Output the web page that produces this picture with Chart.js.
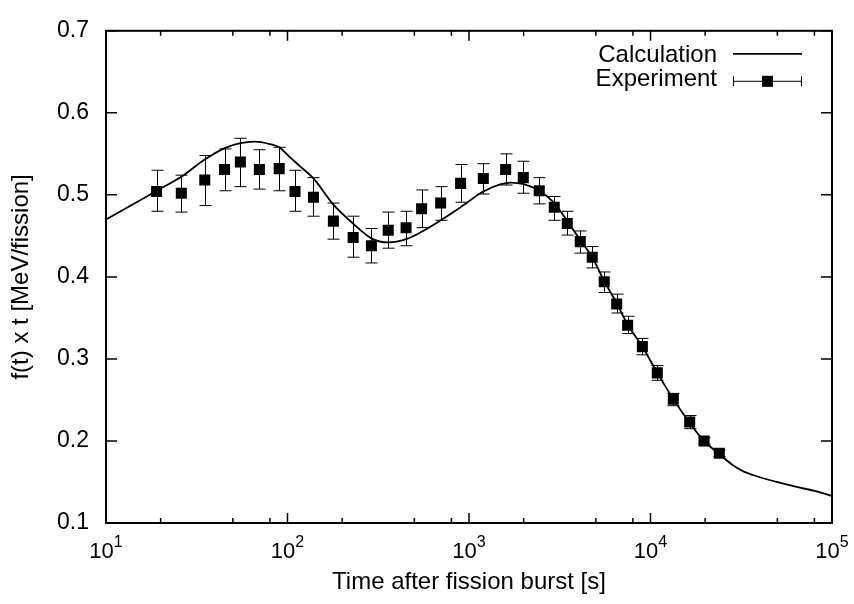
<!DOCTYPE html>
<html>
<head>
<meta charset="utf-8">
<script src="https://cdn.jsdelivr.net/npm/chart.js@4/dist/chart.umd.min.js"></script>
<style>
  html, body { margin: 0; padding: 0; background: #fff; }
</style>
</head>
<body>
<canvas id="myChart" width="854" height="604"></canvas>
<script>
// Experiment: time [s], value, error bar bounds
const expT = [19, 26, 35, 45, 55, 70, 90, 110, 139, 179, 230, 290, 359, 450, 548, 698, 899, 1199,
  1592, 1991, 2438, 2950, 3480, 4103, 4775, 5558, 6511, 7482, 9020, 10901, 13357, 16440, 19727, 23940]
const expY = [0.504, 0.502, 0.518, 0.531, 0.540, 0.531, 0.532, 0.504, 0.497, 0.468, 0.448, 0.438,
  0.457, 0.460, 0.483, 0.490, 0.514, 0.520, 0.531, 0.521, 0.505, 0.485, 0.465, 0.443, 0.424, 0.394,
  0.367, 0.341, 0.315, 0.283, 0.251, 0.223, 0.200, 0.185]
const expHi = [0.530, 0.524, 0.548, 0.556, 0.569, 0.555, 0.558, 0.530, 0.521, 0.490, 0.474, 0.459,
  0.479, 0.480, 0.506, 0.510, 0.537, 0.538, 0.550, 0.541, 0.521, 0.498, 0.480, 0.456, 0.437, 0.406,
  0.379, 0.352, 0.325, 0.292, 0.258, 0.231, 0.204, 0.189]
const expLo = [0.480, 0.479, 0.487, 0.505, 0.510, 0.507, 0.505, 0.480, 0.474, 0.446, 0.424, 0.417,
  0.435, 0.438, 0.460, 0.469, 0.491, 0.501, 0.512, 0.502, 0.489, 0.469, 0.451, 0.429, 0.411, 0.381,
  0.356, 0.331, 0.305, 0.274, 0.243, 0.215, 0.196, 0.181]

// Calculation curve
const calcT = [10, 15, 19, 26, 35, 45, 55, 66, 80, 90, 103, 117, 139, 179, 230, 290, 359, 450, 548,
  698, 899, 1199, 1500, 1700, 2000, 2440, 2950, 3480, 4100, 4775, 5560, 6510, 7480, 9020, 10900,
  13360, 16440, 19730, 23940, 28600, 32500, 38500, 49600, 63800, 82300, 100000]
const calcV = [0.470, 0.492, 0.505, 0.522, 0.543, 0.557, 0.563, 0.565, 0.562, 0.558, 0.546, 0.535,
  0.520, 0.488, 0.465, 0.447, 0.442, 0.446, 0.455, 0.469, 0.485, 0.504, 0.513, 0.515, 0.513, 0.505,
  0.490, 0.468, 0.445, 0.424, 0.395, 0.368, 0.342, 0.315, 0.283, 0.251, 0.222, 0.200, 0.184, 0.170,
  0.163, 0.157, 0.150, 0.144, 0.1385, 0.133]

// Axis ticks
const xMajor = [10, 100, 1000, 10000, 100000]
const xExp = ['1', '2', '3', '4', '5']
const xMinor = [2, 5, 8]
const yTicks = [0.1, 0.2, 0.3, 0.4, 0.5, 0.6, 0.7]

const FONT = '"Liberation Sans", Arial, Helvetica, sans-serif'

const gnuplotLook = {
  id: 'gnuplotLook',
  beforeDatasetsDraw(chart) {
    const { ctx, scales: { x, y } } = chart
    ctx.save()
    ctx.strokeStyle = '#000'
    ctx.lineWidth = 1
    expT.forEach((t, i) => {
      const px = Math.round(x.getPixelForValue(t)) + 0.5
      const top = y.getPixelForValue(expHi[i])
      const bot = y.getPixelForValue(expLo[i])
      ctx.beginPath()
      ctx.moveTo(px, top); ctx.lineTo(px, bot)
      ctx.moveTo(px - 6, top); ctx.lineTo(px + 6, top)
      ctx.moveTo(px - 6, bot); ctx.lineTo(px + 6, bot)
      ctx.stroke()
    })
    ctx.restore()
  },
  afterDraw(chart) {
    const { ctx, chartArea: a, scales: { x, y } } = chart
    ctx.save()
    ctx.strokeStyle = '#000'
    ctx.fillStyle = '#000'
    ctx.lineWidth = 1.5
    ctx.beginPath()
    // x ticks, bottom and top, inward
    xMajor.forEach((v, i) => {
      const px = x.getPixelForValue(v)
      ctx.moveTo(px, a.bottom); ctx.lineTo(px, a.bottom - 10)
      ctx.moveTo(px, a.top); ctx.lineTo(px, a.top + 10)
      if (i < xMajor.length - 1) {
        xMinor.forEach(m => {
          const mx = x.getPixelForValue(v * m)
          ctx.moveTo(mx, a.bottom); ctx.lineTo(mx, a.bottom - 5)
          ctx.moveTo(mx, a.top); ctx.lineTo(mx, a.top + 5)
        })
      }
    })
    yTicks.forEach(v => {
      const py = y.getPixelForValue(v)
      ctx.moveTo(a.left, py); ctx.lineTo(a.left + 11, py)
      ctx.moveTo(a.right, py); ctx.lineTo(a.right - 11, py)
    })
    ctx.stroke()
    ctx.lineWidth = 2
    ctx.strokeRect(a.left, a.top, a.right - a.left, a.bottom - a.top)

    // x tick labels 10^n
    ctx.textBaseline = 'alphabetic'
    ctx.textAlign = 'left'
    xMajor.forEach((v, i) => {
      const px = x.getPixelForValue(v)
      ctx.font = '22px ' + FONT
      const bw = ctx.measureText('10').width
      ctx.font = '16px ' + FONT
      const sw = ctx.measureText(xExp[i]).width
      const start = px - (bw + sw) / 2
      ctx.font = '22px ' + FONT
      ctx.fillText('10', start, a.bottom + 35)
      ctx.font = '16px ' + FONT
      ctx.fillText(xExp[i], start + bw, a.bottom + 24)
    })

    // legend
    ctx.font = '24px ' + FONT
    ctx.textAlign = 'right'
    const lx0 = a.right - 99, lx1 = a.right - 30, tx = a.right - 115
    ctx.fillText(chart.data.datasets[0].label, tx, a.top + 31)
    ctx.fillText(chart.data.datasets[1].label, tx, a.top + 55)
    ctx.lineWidth = 1.8
    ctx.beginPath()
    ctx.moveTo(lx0, a.top + 23); ctx.lineTo(lx1, a.top + 23)
    ctx.stroke()
    ctx.lineWidth = 1
    const ly = a.top + 50.5
    ctx.beginPath()
    ctx.moveTo(lx0, ly); ctx.lineTo(lx1, ly)
    ctx.moveTo(lx0 + 0.5, ly - 5); ctx.lineTo(lx0 + 0.5, ly + 5)
    ctx.moveTo(lx1 - 0.5, ly - 5); ctx.lineTo(lx1 - 0.5, ly + 5)
    ctx.stroke()
    const cx = (lx0 + lx1) / 2
    ctx.fillRect(cx - 5.5, ly - 5.5, 11, 11)
    ctx.restore()
  }
}

const ctx = document.getElementById('myChart')
// eslint-disable-next-line no-unused-vars
const myChart = new Chart(ctx, {
  type: 'scatter',
  data: {
    datasets: [{
      label: 'Calculation',
      type: 'line',
      data: calcT.map((t, i) => ({ x: t, y: calcV[i] })),
      borderColor: '#000',
      borderWidth: 1.8,
      pointRadius: 0,
      cubicInterpolationMode: 'monotone',
      fill: false,
      order: 2
    }, {
      label: 'Experiment',
      data: expT.map((t, i) => ({ x: t, y: expY[i] })),
      pointStyle: 'rect',
      pointRadius: 7.8,
      pointBackgroundColor: '#000',
      pointBorderColor: '#000',
      pointBorderWidth: 0,
      order: 1
    }]
  },
  options: {
    responsive: false,
    animation: false,
    layout: { padding: { top: 19, right: 22, left: 0, bottom: 0 } },
    plugins: {
      legend: { display: false },
      tooltip: { enabled: false }
    },
    scales: {
      x: {
        type: 'logarithmic',
        min: 10,
        max: 100000,
        grid: { display: false, drawTicks: false },
        border: { display: false },
        ticks: { display: false },
        title: {
          display: true,
          text: 'Time after fission burst [s]',
          color: '#000',
          font: { family: FONT, size: 24 },
          padding: { top: 0, bottom: 7 }
        },
        afterFit: s => { s.height = 81 }
      },
      y: {
        min: 0.1,
        max: 0.7,
        afterBuildTicks: s => { s.ticks = yTicks.map(v => ({ value: v })) },
        grid: { display: false, drawTicks: false },
        border: { display: false },
        ticks: {
          color: '#000',
          padding: 17,
          font: { family: FONT, size: 23 },
          callback: v => v.toFixed(1)
        },
        title: {
          display: true,
          text: 'f(t) x t [MeV/fission]',
          color: '#000',
          font: { family: FONT, size: 24 },
          padding: { top: 7, bottom: 0 }
        },
        afterFit: s => { s.width = 106 }
      }
    }
  },
  plugins: [gnuplotLook]
})
</script>
</body>
</html>
